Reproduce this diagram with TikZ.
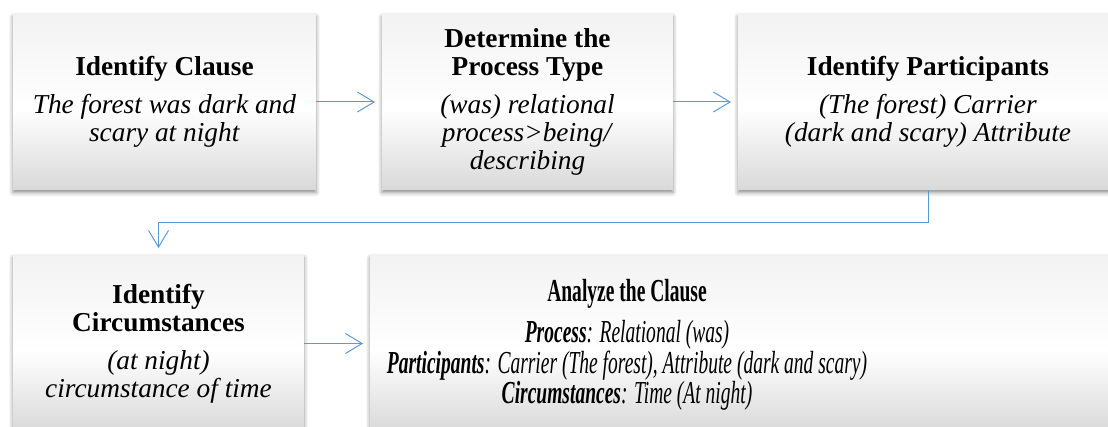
\documentclass[tikz,border=0pt]{standalone}
\usepackage{fontspec}
\setmainfont{Liberation Serif}
\newfontfamily\condserif[FakeStretch=0.61]{Liberation Serif}
\usetikzlibrary{arrows.meta,shadows.blur}

\definecolor{flowblue}{HTML}{5B9BD5}
% box fill: faint grey at the top, white a little below the middle, grey at the bottom
\pgfdeclareverticalshading{stepfill}{100bp}{%
  color(0bp)=(black!15); color(25bp)=(black!15);
  color(48bp)=(white); color(75bp)=(black!5); color(100bp)=(black!5)}

\newcommand\stepfont{\fontsize{20.5pt}{21pt}\selectfont}
\newcommand\summaryfont{\condserif\fontsize{24pt}{19.4pt}\selectfont}
\newcommand\ttl[1]{\textbf{#1}}
\newcommand\txt[1]{\textit{#1}}

\tikzset{
  stepbox/.style={rectangle, shading=stepfill, inner sep=0pt, align=center,
    font=\stepfont,
    blur shadow={shadow xshift=0pt, shadow yshift=-2pt,
                 shadow blur radius=3pt, shadow opacity=45}},
  arr/.style={draw=flowblue, line width=0.75pt,
    -{Straight Barb[length=12.5pt,width=15pt]}, shorten >=5pt},
}

\begin{document}
\begin{tikzpicture}[x=0.75pt,y=-0.75pt]
  \useasboundingbox (0,0) rectangle (1108,427);
  \clip (0,0) rectangle (1108,427);

  % top row
  \node[stepbox, minimum width=227.25pt, minimum height=132pt] (b1) at (164.5,102)
    {\ttl{Identify Clause}\\[7.5pt]\txt{The forest was dark and}\\ \txt{scary at night}};
  \node[stepbox, minimum width=218.25pt, minimum height=132pt] (b2) at (527.5,102)
    {\ttl{Determine the}\\ \ttl{Process Type}\\[7.5pt]\txt{(was) relational}\\
     \txt{process>being/}\\ \txt{describing}};
  \node[stepbox, minimum width=285pt, minimum height=132pt] (b3) at (928,102)
    {\ttl{Identify Participants}\\[7.5pt]\txt{(The forest) Carrier}\\
     \txt{(dark and scary) Attribute}};

  % bottom row
  \node[stepbox, minimum width=218.25pt, minimum height=132.75pt] (b4) at (158.5,343.5)
    {\ttl{Identify}\\ \ttl{Circumstances}\\[7.5pt]\txt{(at night)}\\
     \txt{circumstance of time}};
  \node[stepbox, minimum width=561pt, minimum height=132.75pt] (b5) at (744,343.5) {};
  \node[align=center, inner sep=0pt, font=\summaryfont] (b5text) at (627,345)
    {\ttl{Analyze the Clause}\\[8pt]
     \txt{\textbf{Process}: Relational (was)}\\
     \txt{\textbf{Participants}: Carrier (The forest), Attribute (dark and scary)}\\
     \txt{\textbf{Circumstances}: Time (At night)}};

  % connectors
  \draw[arr] (b1) -- (b2);
  \draw[arr] (b2) -- (b3);
  \draw[arr] (b3.south) -- ++(0,32) -| (b4.north);
  \draw[arr] (b4) -- (b5);
\end{tikzpicture}
\end{document}
